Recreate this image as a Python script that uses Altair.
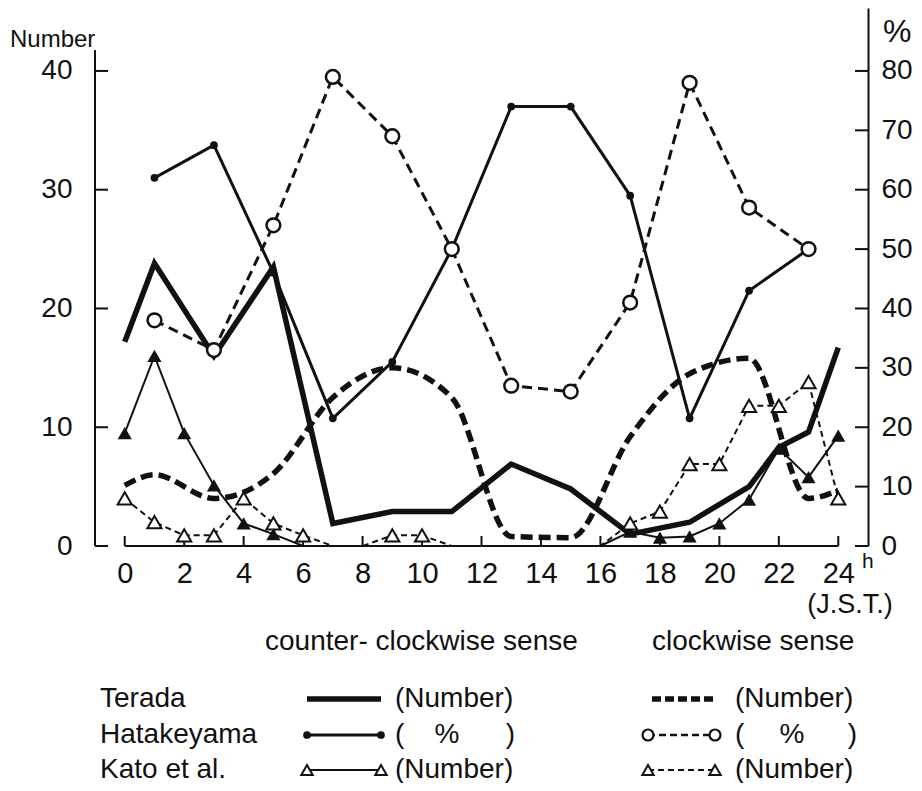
import altair as alt
import pandas as pd

# ---------------- data ----------------
terada_ccw_hours = [0, 1, 3, 5, 7, 9, 11, 13, 15, 17, 19, 21, 22, 23, 24]
terada_ccw = [17.2, 23.8, 16.0, 23.5, 1.9, 2.9, 2.9, 6.9, 4.8, 1.0, 2.0, 5.0, 8.3, 9.6, 16.7]

terada_cw_hours = [0, 1, 3, 5, 7, 9, 11, 13, 15, 17, 19, 21, 23, 24]
terada_cw = [5.1, 6.0, 4.0, 6.1, 12.5, 15.0, 12.5, 0.8, 0.7, 9.2, 14.5, 15.8, 4.0, 4.7]

hata_hours = [1, 3, 5, 7, 9, 11, 13, 15, 17, 19, 21, 23]
hata_ccw = [62, 67.5, 46, 21.5, 31, 50, 74, 74, 59, 21.5, 43, 50]   # %
hata_cw = [38, 33, 54, 79, 69, 50, 27, 26, 41, 78, 57, 50]          # %

kato_hours = list(range(0, 25))
kato_ccw = [9.5, 16.0, 9.5, 5.1, 1.9, 1.0, 0, 0, 0, 0, 0, 0, 0, 0, 0, 0, 0,
            1.2, 0.7, 0.8, 1.9, 3.9, 8.2, 5.8, 9.3]
kato_cw = [4.0, 2.0, 0.9, 0.9, 4.0, 1.9, 0.9, 0, 0, 0.9, 0.9, 0, 0, 0, 0, 0, 0,
           1.9, 2.9, 6.9, 6.9, 11.8, 11.8, 13.8, 4.0]

x_ticks = list(range(0, 25, 2))
left_ticks = [0, 10, 20, 30, 40]
right_ticks = [0, 10, 20, 30, 40, 50, 60, 70, 80]

legend_names = ["Terada", "Hatakeyama", "Kato et al."]
legend_units = ["(Number)", "%", "(Number)"]

# ---------------- style ----------------
INK = "#111111"
FONT = "Liberation Sans"
W, H = 773, 538

def df(hours, vals):
    return pd.DataFrame({"hour": hours, "value": vals})

X = alt.X("hour:Q", title=None,
          scale=alt.Scale(domain=[-1, 25], nice=False, zero=False),
          axis=alt.Axis(values=x_ticks, domain=False, ticks=False, grid=False,
                        labelFontSize=29, labelPadding=13, labelFont=FONT,
                        labelColor=INK, labelFlush=False, labelOverlap=False))

YL = alt.Y("value:Q", title=None,
           scale=alt.Scale(domain=[0, 45.3], nice=False, zero=False),
           axis=alt.Axis(values=left_ticks, domain=False, ticks=False, grid=False,
                         labelFontSize=28, labelPadding=23, labelFont=FONT,
                         labelColor=INK, orient="left"))

YR = alt.Y("value:Q", title=None,
           scale=alt.Scale(domain=[0, 90.6], nice=False, zero=False),
           axis=alt.Axis(values=right_ticks, domain=True, domainColor=INK,
                         domainWidth=2, ticks=False, grid=False,
                         labelFontSize=28, labelPadding=13, labelFont=FONT,
                         labelColor=INK, orient="right"))


def line(d, Y, width, dash=None, interp="linear"):
    kw = dict(color=INK, strokeWidth=width, interpolate=interp, strokeCap="butt")
    if dash:
        kw["strokeDash"] = dash
    return alt.Chart(d).mark_line(**kw).encode(x=X, y=Y)


def points(d, Y, shape, size, filled, sw=2):
    base = alt.Chart(d).transform_filter("datum.value > 0")
    if filled:
        m = base.mark_point(shape=shape, size=size, filled=True, color=INK, opacity=1)
    else:
        m = base.mark_point(shape=shape, size=size, filled=False, stroke=INK,
                            fill="white", fillOpacity=1, strokeWidth=sw, opacity=1)
    return m.encode(x=X, y=Y)


dummy = pd.DataFrame({"k": [0]})


def text(s, x, y, size=28, align="left", baseline="alphabetic"):
    return alt.Chart(dummy).mark_text(text=s, align=align, baseline=baseline,
                                      font=FONT, fontSize=size, color=INK).encode(
        x=alt.value(x), y=alt.value(y))


def seg(x1, x2, y, width, dash=None):
    kw = dict(color=INK, strokeWidth=width, strokeCap="butt")
    if dash:
        kw["strokeDash"] = dash
    return alt.Chart(dummy).mark_rule(**kw).encode(
        x=alt.value(x1), x2=alt.value(x2), y=alt.value(y))


def dot(x, y, shape, size, filled, sw=2):
    if filled:
        m = alt.Chart(dummy).mark_point(shape=shape, size=size, filled=True, color=INK, opacity=1)
    else:
        m = alt.Chart(dummy).mark_point(shape=shape, size=size, filled=False, stroke=INK,
                                        fill="white", fillOpacity=1, strokeWidth=sw, opacity=1)
    return m.encode(x=alt.value(x), y=alt.value(y))


# ---------------- data layers ----------------
d_tccw = df(terada_ccw_hours, terada_ccw)
d_tcw = df(terada_cw_hours, terada_cw)
d_kccw = df(kato_hours, kato_ccw)
d_kcw = df(kato_hours, kato_cw)
d_hccw = df(hata_hours, hata_ccw)
d_hcw = df(hata_hours, hata_cw)

# axis furniture
xt = pd.DataFrame({"hour": x_ticks})
x_tick_rules = alt.Chart(xt).mark_rule(color=INK, strokeWidth=2).encode(
    x=X, y=alt.value(H), y2=alt.value(H - 10))
base_df = pd.DataFrame({"hour": [x_ticks[0]], "hour2": [x_ticks[-1]], "value": [0]})
baseline = alt.Chart(base_df).mark_rule(color=INK, strokeWidth=2).encode(
    x=X, x2="hour2:Q", y=YL)
lt = pd.DataFrame({"value": left_ticks})
left_tick_rules = alt.Chart(lt).mark_rule(color=INK, strokeWidth=2).encode(
    y=YL, x=alt.value(0), x2=alt.value(13))
left_domain = alt.Chart(dummy).mark_rule(color=INK, strokeWidth=2).encode(
    x=alt.value(0), y=alt.value(42), y2=alt.value(H))
rt = pd.DataFrame({"value": right_ticks})
right_tick_rules = alt.Chart(rt).mark_rule(color=INK, strokeWidth=2).encode(
    y=YR, x=alt.value(W - 13), x2=alt.value(W))

# annotations
annots = [
    text("Number", -85, 39, size=24),
    text("%", 788, 34, size=32),
    text("h", 767, 560, size=21),
    text("(J.S.T.)", 755, 605, size=27, align="center"),
    text("counter- clockwise sense", 170, 642, size=28),
    text("clockwise sense", 557, 642, size=28),
]

# legend
rows_y = [691, 727, 762]
c1a, c1b, c1t = 212, 286, 300
c2a, c2b, c2t = 553, 620, 640
leg = []
for name, unit, y in zip(legend_names, legend_units, rows_y):
    leg.append(text(name, 5, y, size=28, baseline="middle"))
    if unit == "%":
        leg.append(text("(", c1t, y, baseline="middle"))
        leg.append(text("%", 352, y, align="center", baseline="middle"))
        leg.append(text(")", 420, y, align="right", baseline="middle"))
        leg.append(text("(", c2t, y, baseline="middle"))
        leg.append(text("%", 697, y, align="center", baseline="middle"))
        leg.append(text(")", 762, y, align="right", baseline="middle"))
    else:
        leg.append(text(unit, c1t, y, baseline="middle"))
        leg.append(text(unit, c2t, y, baseline="middle"))

# Terada icons
leg += [seg(c1a, c1b, rows_y[0], 5.5), seg(c2a + 4, c2b, rows_y[0], 5.5, [9, 4])]
# Hatakeyama icons
leg += [seg(c1a, c1b, rows_y[1], 3), dot(c1a, rows_y[1], "circle", 60, True),
        dot(c1b, rows_y[1], "circle", 60, True),
        seg(c2a, c2b, rows_y[1], 2.5, [7, 4]), dot(c2a, rows_y[1], "circle", 120, False, 2.2),
        dot(c2b, rows_y[1], "circle", 120, False, 2.2)]
# Kato icons
leg += [seg(c1a, c1b, rows_y[2], 2), dot(c1a, rows_y[2], "triangle-up", 130, False),
        dot(c1b, rows_y[2], "triangle-up", 130, False),
        seg(c2a, c2b, rows_y[2], 2, [6, 4]), dot(c2a, rows_y[2], "triangle-up", 130, False),
        dot(c2b, rows_y[2], "triangle-up", 130, False)]

left_group = alt.layer(
    baseline, x_tick_rules, left_tick_rules, left_domain,
    line(d_tccw, YL, 5.5),
    line(d_tcw, YL, 5.5, [12, 6], "monotone"),
    line(d_kccw, YL, 2),
    line(d_kcw, YL, 2, [6, 4]),
    points(d_kccw, YL, "triangle-up", 200, True),
    points(d_kcw, YL, "triangle-up", 200, False, 2),
    *annots, *leg,
)

right_group = alt.layer(
    right_tick_rules,
    line(d_hccw, YR, 3),
    line(d_hcw, YR, 3, [10, 6]),
    points(d_hccw, YR, "circle", 60, True),
    points(d_hcw, YR, "circle", 190, False, 2.5),
)

chart = alt.layer(left_group, right_group).resolve_scale(y="independent").properties(
    width=W, height=H,
    autosize=alt.AutoSizeParams(type="none"),
    padding={"left": 87, "top": 0, "right": 46, "bottom": 237},
    background="white",
).configure_view(stroke=None)

chart.save("out.html", embed_options={"renderer": "svg", "actions": False})
